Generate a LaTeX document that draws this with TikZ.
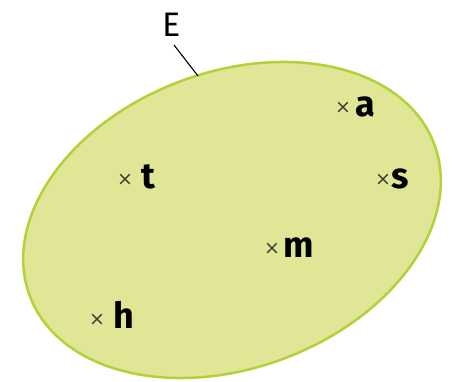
\documentclass[tikz,border=0pt]{standalone}
\usepackage{fontspec}
\setmainfont{Fira Sans}
\newfontfamily\crossfont{DejaVu Sans}
\definecolor{setfill}{RGB}{225,229,150}
\definecolor{setedge}{RGB}{180,210,55}
\definecolor{crossgray}{RGB}{60,60,50}
\begin{document}
\begin{tikzpicture}[x=1pt,y=1pt,
  cross/.style={inner sep=0pt, text=crossgray, font=\crossfont\fontsize{19}{19}\selectfont},
  lbl/.style={inner sep=0pt, anchor=base west, font=\bfseries\fontsize{36}{36}\selectfont},
  setname/.style={inner sep=0pt, font=\fontsize{34}{34}\selectfont}]
\useasboundingbox (0,0) rectangle (452,382);
\draw[setedge, line width=2.5pt, fill=setfill] (232,162) ellipse [x radius=216, y radius=148, rotate=20.6];
\node[setname] (E) at (172,357) {E};
\coordinate (l1) at (174,337);
\coordinate (l2) at (198,306);
\draw[line width=1.1pt] (l1) -- (l2);
% points
\node[cross] (xa) at (343,274) {×};
\node[lbl] (a) at (355,265) {a};
\node[cross] (xt) at (125,202) {×};
\node[lbl] (t) at (141,193) {t};
\node[cross] (xs) at (383,202) {×};
\node[lbl] (s) at (391,193) {s};
\node[cross] (xm) at (272,133) {×};
\node[lbl] (m) at (283,124) {m};
\node[cross] (xh) at (97,62) {×};
\node[lbl] (h) at (113,53) {h};
\end{tikzpicture}
\end{document}
